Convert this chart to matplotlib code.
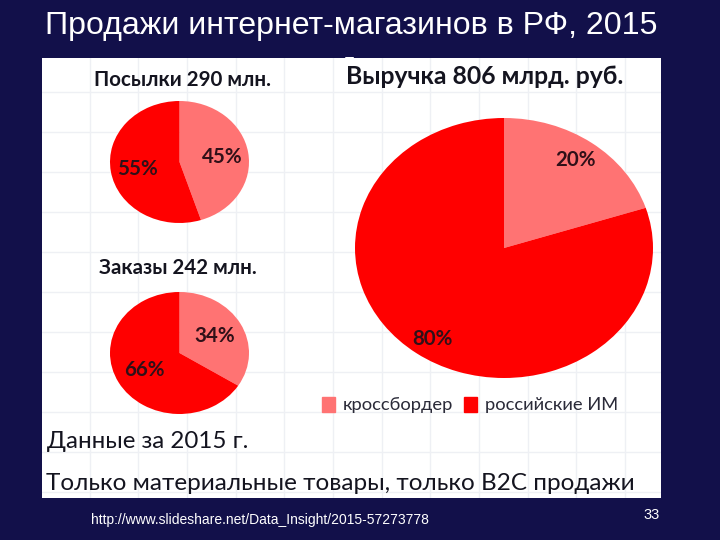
import numpy as np
import matplotlib
matplotlib.use("Agg")
import matplotlib.pyplot as plt
from matplotlib.patches import Patch

series_names = ["кроссбордер", "российские ИМ"]
parcels = [45, 55]
orders = [34, 66]
revenue = [20, 80]
pie_titles = ["Посылки 290 млн.", "Заказы 242 млн.", "Выручка 806 млрд. руб."]
title = "Продажи интернет-магазинов в РФ, 2015"
title_tail = "г."
note1 = "Данные за 2015 г."
note2 = "Только материальные товары, только B2C продажи"
source = "http://www.slideshare.net/Data_Insight/2015-57273778"
page_num = "33"

bg = "#12104a"
light_red = "#ff7373"
red = "#ff0000"
W, H = 720, 540


def box(left, top, right, bottom):
    return [left / W, 1 - bottom / H, (right - left) / W, (bottom - top) / H]


fig = plt.figure(figsize=(7.2, 5.4), dpi=100, facecolor=bg)

fig.text(351 / W, 1 - 26 / H, title, color="white", fontsize=23.1, family="Liberation Sans",
         ha="center", va="center")
# second line of the title sits behind the panel, only its top shows
fig.text(351 / W, 1 - 66 / H, title_tail, color="white", fontsize=23.1, family="Liberation Sans",
         ha="center", va="center", zorder=0)
fig.text(260 / W, 1 - 520 / H, source, color="white", fontsize=10, family="Liberation Sans",
         ha="center", va="center")
fig.text(652 / W, 1 - 515 / H, page_num, color="white", fontsize=10.5, family="Liberation Sans",
         ha="center", va="center")

# white panel, axes run in picture pixels
panel = fig.add_axes(box(42, 58, 661, 498), zorder=1)
panel.set_xlim(42, 661)
panel.set_ylim(498, 58)
panel.set_facecolor("white")
panel.set_xticks(np.arange(89.5, 661, 48.7))
panel.set_yticks(np.arange(92, 498, 40))
panel.grid(True, color="#eef0f4", lw=1.0)
panel.set_axisbelow(True)
panel.tick_params(length=0, labelbottom=False, labelleft=False)
for s in panel.spines.values():
    s.set_visible(False)

text_font = "Lato"
ink = "#14141f"
panel.text(182, 80, pie_titles[0], fontsize=14.8, weight="bold", family=text_font, color=ink,
           ha="center", va="center")
panel.text(178, 268, pie_titles[1], fontsize=14.8, weight="bold", family=text_font, color=ink,
           ha="center", va="center")
panel.text(485, 77, pie_titles[2], fontsize=17.8, weight="bold", family=text_font, color=ink,
           ha="center", va="center")
panel.text(47, 442, note1, fontsize=17.4, family=text_font, color=ink, va="center")
panel.text(46, 483, note2, fontsize=17.5, family=text_font, color=ink, va="center")

handles = [Patch(color=light_red), Patch(color=red)]
panel.legend(handles, series_names, loc="center", bbox_to_anchor=((470 - 42) / 619, 1 - (405 - 58) / 440),
             ncol=2, frameon=False, prop={"family": text_font, "size": 13.2},
             handlelength=0.68, handleheight=0.9, handletextpad=0.45, columnspacing=0.6,
             labelcolor="#2a2a38")


def draw_pie(values, bounds, label_pos, size):
    ax = fig.add_axes(box(*bounds), zorder=2)
    ax.pie(values, colors=[light_red, red], startangle=90, counterclock=False, radius=1)
    ax.set_aspect("auto")
    ax.set_xlim(-1, 1)
    ax.set_ylim(-1, 1)
    ax.patch.set_visible(False)
    for val, (px, py) in zip(values, label_pos):
        panel_x = (px - bounds[0]) / (bounds[2] - bounds[0]) * 2 - 1
        panel_y = 1 - (py - bounds[1]) / (bounds[3] - bounds[1]) * 2
        ax.text(panel_x, panel_y, f"{val}%", fontsize=size, weight="bold", family=text_font,
                color="#301018", ha="center", va="center")


draw_pie(parcels, (110, 101, 249, 223), [(222, 157), (137, 169)], 14.8)
draw_pie(orders, (110, 292, 249, 414), [(215, 336), (144, 370)], 14.8)
draw_pie(revenue, (355, 118, 653, 378), [(576, 160), (432, 339)], 14.8)

fig.savefig("out.png", dpi=100, facecolor=bg)
